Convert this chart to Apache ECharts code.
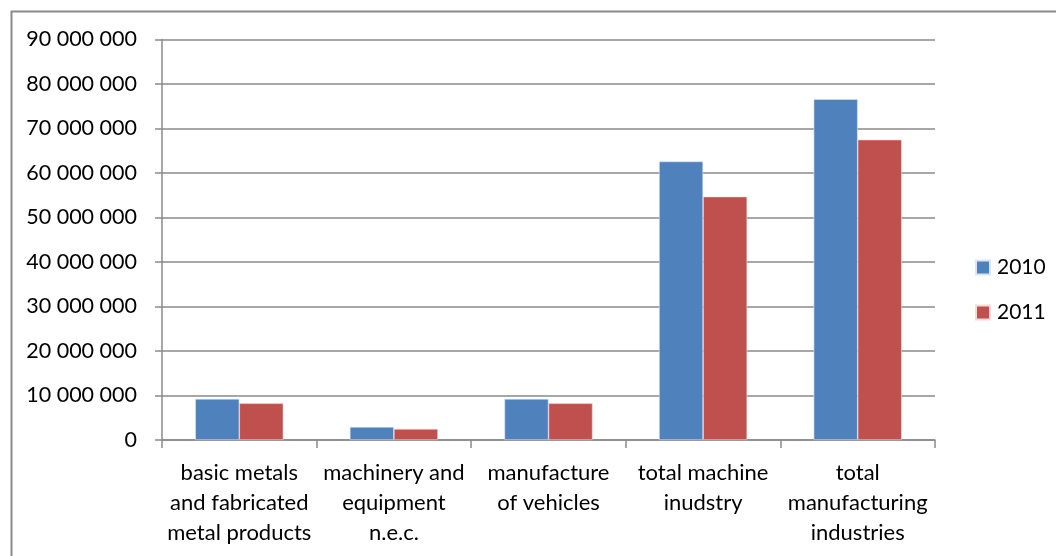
<!DOCTYPE html>
<html>
<head>
<meta charset="utf-8">
<script src="https://cdn.jsdelivr.net/npm/echarts@6/dist/echarts.min.js"></script>
<style>
html,body{margin:0;padding:0;background:#fff;}
#chart{width:1056px;height:556px;}
</style>
</head>
<body>
<div id="chart"></div>
<script>
const categories = [
  'basic metals\nand fabricated\nmetal products',
  'machinery and\nequipment\nn.e.c.',
  'manufacture\nof vehicles',
  'total machine\ninudstry',
  'total\nmanufacturing\nindustries'
];
const seriesNames = ['2010', '2011'];
const values2010 = [9250000, 2950000, 9250000, 62600000, 76600000];
const values2011 = [8250000, 2500000, 8250000, 54700000, 67500000];
const yMin = 0, yMax = 90000000, yStep = 10000000;

const FONT = 'Lato, "Open Sans", sans-serif';
const GRAY = '#8a8a8a';

const chart = echarts.init(document.getElementById('chart'));
chart.setOption({
  animation: false,
  backgroundColor: '#fff',
  graphic: [{
    type: 'rect',
    shape: { x: 11.5, y: 11.5, width: 1200, height: 700 },
    style: { fill: 'none', stroke: GRAY, lineWidth: 2 },
    silent: true
  }],
  grid: { left: 162, right: 121, top: 39.5, bottom: 116, containLabel: false },
  legend: {
    orient: 'vertical',
    left: 975,
    top: 257,
    padding: 0,
    itemWidth: 14,
    itemHeight: 14,
    itemGap: 24,
    icon: 'rect',
    textStyle: { fontFamily: FONT, fontSize: 21, color: '#000', padding: [0,0,0,2] },
    data: seriesNames
  },
  xAxis: {
    type: 'category',
    data: categories,
    axisLine: { lineStyle: { color: GRAY, width: 1.5 } },
    axisTick: { show: true, length: 8, lineStyle: { color: GRAY, width: 1.5 } },
    axisLabel: {
      interval: 0,
      margin: 18,
      fontFamily: FONT,
      fontSize: 22,
      lineHeight: 30,
      color: '#000',
      align: 'center'
    }
  },
  yAxis: {
    type: 'value',
    min: yMin,
    max: yMax,
    interval: yStep,
    axisLine: { show: true, lineStyle: { color: GRAY, width: 1.5 } },
    axisTick: { show: true, length: 7, lineStyle: { color: GRAY, width: 1.5 } },
    splitLine: { show: true, lineStyle: { color: GRAY, width: 1.5 } },
    axisLabel: {
      margin: 25,
      fontFamily: FONT,
      fontSize: 21.5,
      color: '#000',
      formatter: v => String(Math.round(v)).replace(/\B(?=(\d{3})+(?!\d))/g, ' ')
    }
  },
  series: [
    {
      name: seriesNames[0],
      type: 'bar',
      data: values2010,
      barGap: '0%',
      barCategoryGap: '43%',
      itemStyle: { color: '#4f81bd', borderColor: '#dbe5f1', borderWidth: 0.6 }
    },
    {
      name: seriesNames[1],
      type: 'bar',
      data: values2011,
      barGap: '0%',
      barCategoryGap: '43%',
      itemStyle: { color: '#c0504d', borderColor: '#f2dcdb', borderWidth: 0.6 }
    }
  ]
});
</script>
</body>
</html>
